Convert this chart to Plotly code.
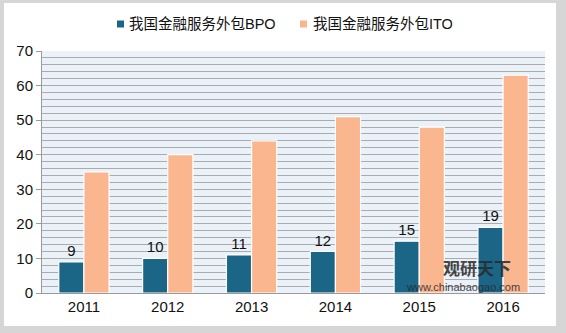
import plotly.graph_objects as go

years = ["2011", "2012", "2013", "2014", "2015", "2016"]
bpo = [9, 10, 11, 12, 15, 19]
ito = [35, 40, 44, 51, 48, 63]
name_bpo = "我国金融服务外包BPO"
name_ito = "我国金融服务外包ITO"
color_bpo = "#1B6587"
color_ito = "#F9B68F"

FONT = "Liberation Sans, Arial, Noto Sans CJK SC, sans-serif"

W, H = 566, 333
ML, MR, MT, MB = 42, 21, 51, 40
PW, PH = W - ML - MR, H - MT - MB


def px_x(x):
    return (x - ML) / PW


def px_y(y):
    return (H - MB - y) / PH


fig = go.Figure()
fig.add_trace(go.Bar(
    x=years, y=bpo, name=name_bpo,
    marker=dict(color=color_bpo, line=dict(color="white", width=1.2)),
    text=[str(v) for v in bpo], textposition="outside",
    textfont=dict(size=15, color="#111111", family=FONT),
    cliponaxis=False,
))
fig.add_trace(go.Bar(
    x=years, y=ito, name=name_ito,
    marker=dict(color=color_ito, line=dict(color="white", width=1.2)),
))

fig.update_layout(
    width=W, height=H,
    margin=dict(l=ML, r=MR, t=MT, b=MB),
    paper_bgcolor="#D6D6D6",
    plot_bgcolor="#EAF1F8",
    barmode="group",
    bargap=0.4,
    bargroupgap=0,
    font=dict(family=FONT, size=15, color="#111111"),
    showlegend=False,
    xaxis=dict(
        showline=True, linecolor="#9A9A9A", linewidth=1,
        ticks="", tickfont=dict(size=15), showgrid=False,
    ),
    yaxis=dict(
        range=[0, 70], dtick=10, showline=True, linecolor="#9A9A9A", linewidth=1,
        ticks="outside", ticklen=5, tickcolor="#9A9A9A",
        showgrid=True, gridcolor="#ABABAB", gridwidth=1,
        minor=dict(dtick=2, showgrid=True, gridcolor="#ABABAB", gridwidth=1),
        tickfont=dict(size=15), zeroline=False,
    ),
)

# white card on gray frame
fig.add_shape(type="rect", xref="paper", yref="paper",
              x0=px_x(4), x1=px_x(556), y0=px_y(326), y1=px_y(3),
              line=dict(width=0), fillcolor="white", layer="below")
# plot background (re-drawn above the card)
fig.add_shape(type="rect", xref="paper", yref="paper",
              x0=0, x1=1, y0=0, y1=1,
              line=dict(width=0), fillcolor="#EAF1F8", layer="below")

# legend (manual)
for (x0, x1, col, tx, name) in [(117, 124, color_bpo, 127, name_bpo),
                                (300, 307, color_ito, 311, name_ito)]:
    fig.add_shape(type="rect", xref="paper", yref="paper",
                  x0=px_x(x0), x1=px_x(x1), y0=px_y(27.5), y1=px_y(20.5),
                  line=dict(width=0), fillcolor=col)
    fig.add_annotation(xref="paper", yref="paper", x=px_x(tx), y=px_y(24),
                       text=name, showarrow=False, xanchor="left", yanchor="middle",
                       font=dict(size=14.5, family=FONT, color="#111111"))

# watermark
fig.add_annotation(xref="paper", yref="paper", x=px_x(441), y=px_y(267),
                   text="<b>观研天下</b>", showarrow=False,
                   font=dict(size=17, color="#2a2a2a", family="Noto Sans CJK SC"),
                   xanchor="left", yanchor="middle", opacity=0.85)
fig.add_annotation(xref="paper", yref="paper", x=px_x(463), y=px_y(287),
                   text="www.chinabaogao.com", showarrow=False,
                   font=dict(size=11, color="#2a2a2a", family=FONT),
                   xanchor="center", yanchor="middle", opacity=0.85)

fig.write_html("out.html")
